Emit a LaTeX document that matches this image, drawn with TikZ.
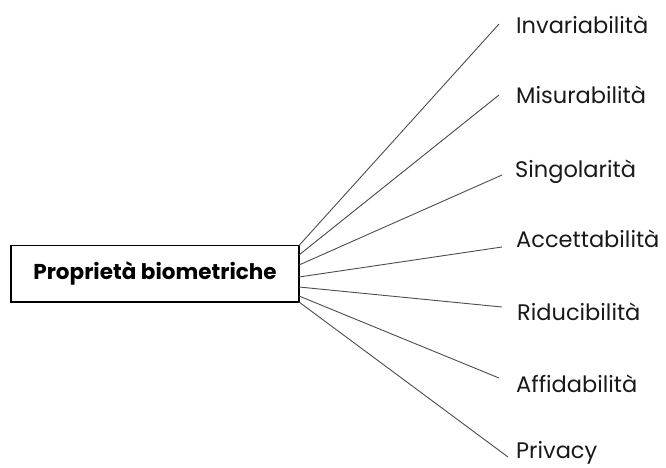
\documentclass[tikz,border=0pt]{standalone}
\usepackage{fontspec}
\setmainfont{Poppins}
\begin{document}
\begin{tikzpicture}[x=1pt,y=-1pt,
  titlebox/.style={draw=black,line width=1.5pt,minimum width=288pt,minimum height=56.5pt,inner sep=0pt,font=\fontsize{21.5}{24}\selectfont\bfseries},
  lbl/.style={anchor=base west,inner sep=0pt,font=\fontsize{22.5}{26}\selectfont,text=black!90},
  conn/.style={draw=black!70,line width=0.9pt}]
\useasboundingbox (0,0) rectangle (666,467);
\node[titlebox] (box) at (155,273.75) {Proprietà biometriche};
\node[lbl] (l1) at (516,33) {Invariabilità};
\node[lbl] (l2) at (516,103) {Misurabilità};
\node[lbl] (l3) at (515,177) {Singolarità};
\node[lbl] (l4) at (516,247) {Accettabilità};
\node[lbl] (l5) at (517,320) {Riducibilità};
\node[lbl] (l6) at (516,392) {Affidabilità};
\node[lbl] (l7) at (516,458) {Privacy};
\coordinate (s1) at (299,245.5);
\coordinate (s2) at (299,255);
\coordinate (s3) at (299,265);
\coordinate (s4) at (299,277);
\coordinate (s5) at (299,287);
\coordinate (s6) at (299,296);
\coordinate (s7) at (299,302);
\coordinate (e1) at (499,24);
\coordinate (e2) at (499,95);
\coordinate (e3) at (502,175);
\coordinate (e4) at (502,247);
\coordinate (e5) at (502,307);
\coordinate (e6) at (499,378);
\coordinate (e7) at (508,457);
\foreach \i in {1,...,7} {\draw[conn] (s\i) -- (e\i);}
\end{tikzpicture}
\end{document}
